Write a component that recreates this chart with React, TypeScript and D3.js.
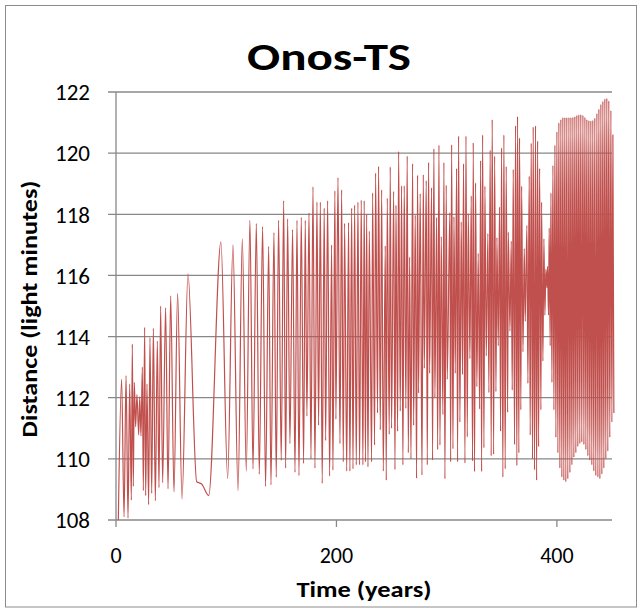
import React from "react";
import * as d3 from "d3";

// ---- Data: turning points of the distance curve ----
// [time (years), distance (light minutes)]
const earlyYears: [number, number][] = [
  [2.1, 108.0], [5.1, 112.6], [7.3, 108.1], [9.1, 112.72], [10.9, 108.06], [12.4, 112.45],
  [13.9, 108.65], [14.8, 113.75], [15.7, 109.1], [16.6, 112.5], [17.8, 111.05], [19.0, 112.1],
  [20.6, 110.78], [21.5, 112.03], [22.7, 110.75], [23.9, 113.0], [24.8, 108.96], [26.0, 114.3],
  [26.9, 108.8], [28.1, 112.45], [29.6, 108.5], [30.8, 113.96], [32.4, 108.87], [33.9, 114.27],
  [35.7, 108.63], [37.5, 113.85], [39.0, 109.06], [40.5, 115.0], [42.3, 109.22], [45.0, 114.94],
  [47.2, 109.02], [49.6, 115.33], [52.6, 108.92], [55.9, 115.41], [59.9, 108.69], [65.3, 116.05],
  [73.2, 109.25], [77.7, 109.18], [84.1, 108.8],
];

const wideSwings: [number, number][] = [
  [95.2, 117.1], [101.3, 109.36], [106.1, 117.0], [110.7, 108.96], [114.6, 117.2], [118.2, 109.6],
  [121.5, 117.8], [124.3, 109.67], [127.3, 117.7], [130.0, 109.5], [133.0, 117.6], [135.7, 109.1],
  [138.5, 116.95], [140.6, 109.15], [143.3, 117.4], [145.4, 109.4], [147.5, 117.8], [149.9, 109.95],
  [152.1, 118.45],
];

const middleYears: [number, number][] = [
  [153.9, 109.7], [155.7, 117.85], [157.8, 110.5], [160.2, 117.5], [162.4, 109.56], [164.2, 117.8],
  [166.0, 109.45], [168.1, 117.9], [170.2, 109.85], [171.7, 117.8], [173.2, 111.4], [175.1, 118.05],
  [176.9, 110.0], [178.7, 118.9], [180.5, 109.7], [182.3, 118.4], [183.8, 111.1], [185.4, 118.4],
  [187.1, 109.2], [188.9, 118.2], [190.2, 110.6], [192.0, 118.45], [193.8, 109.44], [195.6, 117.0],
  [196.8, 109.63], [198.6, 118.77], [199.5, 111.3], [201.4, 119.2], [203.2, 110.5], [204.7, 118.8],
  [206.2, 109.9], [207.4, 117.7], [209.3, 109.6], [211.0, 117.73], [212.2, 109.6], [213.8, 118.2],
  [215.0, 109.67], [216.5, 118.3], [218.0, 109.8], [219.5, 118.4], [221.0, 109.8], [222.5, 118.46],
  [224.0, 109.8], [225.2, 118.45], [226.3, 109.9],
];

const lateYears: [number, number][] = [
  [227.4, 118.0], [228.6, 109.74], [229.8, 117.45], [231.9, 109.9], [232.8, 118.7], [234.6, 110.45],
  [235.5, 119.35], [237.3, 111.5], [238.2, 119.57], [239.8, 110.95], [241.0, 118.8], [242.5, 109.6],
  [244.3, 116.97], [245.2, 109.3], [246.1, 118.53], [247.9, 110.8], [248.8, 119.55], [250.0, 111.0],
  [251.9, 118.75], [253.1, 109.65], [254.0, 118.3], [255.5, 110.9], [256.4, 120.06], [257.9, 111.56],
  [259.1, 118.93], [260.3, 109.8], [261.5, 118.93], [263.0, 111.65], [264.2, 119.9], [265.2, 110.2],
  [266.4, 116.6], [267.6, 110.0], [269.1, 119.66], [270.0, 111.1], [271.5, 117.97], [272.7, 109.36],
  [273.6, 119.28], [274.5, 112.15], [276.0, 118.68], [277.6, 109.47], [278.8, 119.3], [279.7, 112.96],
  [281.5, 119.1], [282.4, 109.8], [283.6, 119.7], [284.5, 112.8], [286.3, 118.87], [287.2, 109.96],
  [288.4, 120.15], [289.3, 112.0], [290.9, 117.9], [291.8, 110.3], [293.0, 120.26], [293.9, 110.45],
  [295.1, 117.27], [296.6, 111.45], [297.5, 119.7], [298.4, 109.35], [299.6, 118.95], [300.5, 112.6],
];

const beatYears: [number, number][] = [
  [302.9, 118.06], [303.6, 109.9], [304.5, 120.28], [305.7, 110.33], [306.6, 117.92], [307.8, 112.8],
  [309.0, 119.5], [309.9, 109.9], [310.8, 120.56], [312.0, 111.2], [313.2, 117.75], [314.4, 112.76],
  [315.3, 119.66], [316.6, 109.86], [317.5, 120.56], [318.7, 110.72], [319.6, 118.03], [321.1, 113.28],
  [322.3, 118.6], [323.5, 109.93], [324.1, 120.34], [325.3, 109.58], [326.2, 119.03], [327.4, 112.36],
  [328.6, 116.72], [329.9, 111.63], [330.8, 119.76], [331.7, 109.58], [332.6, 120.6], [333.8, 110.36],
  [334.7, 118.92], [335.9, 113.37], [337.4, 117.37], [338.3, 112.17], [339.5, 120.1], [340.4, 110.1],
  [341.3, 121.1], [342.6, 110.15], [343.5, 119.9], [344.7, 112.2], [345.6, 117.24], [346.8, 113.7],
  [348.0, 118.24], [348.9, 110.9], [349.8, 120.17], [351.0, 109.4], [351.9, 120.6], [353.1, 109.67],
  [354.0, 119.57], [355.3, 111.52], [355.9, 117.42], [357.4, 114.18], [358.6, 117.12], [359.5, 112.25],
  [360.4, 119.47], [361.6, 110.47], [362.5, 120.9], [363.7, 109.78], [364.3, 121.2], [365.5, 110.2],
  [366.1, 120.5], [367.3, 111.6], [368.0, 118.92], [369.2, 113.5], [370.4, 116.88], [371.3, 114.5],
  [372.8, 117.64], [373.7, 112.47], [374.9, 119.25], [375.8, 110.78], [376.7, 120.33], [377.9, 110.0],
  [378.5, 120.86],
];

const neckYears: [number, number][] = [
  [379.7, 109.64], [380.6, 120.9], [381.6, 109.3], [382.5, 120.4], [383.4, 110.4], [384.3, 119.5],
  [385.5, 111.6], [386.1, 118.4], [387.3, 113.2], [388.2, 117.2], [389.1, 114.7], [390.0, 116.2],
  [390.9, 115.6], [391.5, 116.3], [392.4, 114.7], [393.0, 117.55], [393.9, 113.7], [394.6, 118.7],
  [395.5, 112.5], [396.4, 119.6], [397.3, 111.6], [398.2, 120.26], [399.1, 110.7], [400.0, 120.7],
  [400.9, 110.2], [401.8, 121.0],
];

const finalYears: [number, number][] = [
  [402.7, 109.7], [403.6, 121.1], [404.5, 109.4], [405.4, 121.17], [406.3, 109.3], [407.2, 121.17],
  [408.1, 109.25], [409.0, 121.17], [409.9, 109.35], [410.9, 121.17], [411.8, 109.55], [412.7, 121.17],
  [413.6, 109.8], [414.5, 121.18], [415.4, 110.05], [416.3, 121.2], [417.2, 110.2], [418.1, 121.24],
  [419.0, 110.4], [419.9, 121.26], [420.8, 110.5], [421.7, 121.27], [422.6, 110.55], [423.6, 121.24],
  [424.5, 110.47], [425.4, 121.18], [426.3, 110.3], [427.2, 121.1], [428.1, 110.1], [429.0, 121.07],
  [429.9, 109.95], [430.8, 121.06], [431.7, 109.8], [432.6, 121.08], [433.5, 109.6], [434.4, 121.15],
  [435.3, 109.45], [436.3, 121.3], [437.2, 109.4], [438.1, 121.45], [439.0, 109.35], [439.9, 121.6],
  [440.8, 109.5], [441.7, 121.7], [442.6, 109.7], [443.5, 121.78], [444.4, 110.0], [445.3, 121.8],
  [446.2, 110.25], [447.1, 121.72], [448.0, 110.7], [449.0, 121.4], [449.9, 111.2], [450.8, 120.6],
  [451.7, 111.5],
];

const xTicks = [0, 200, 400];
const yTicks = [108, 110, 112, 114, 116, 118, 120, 122];
const title = "Onos-TS";
const xTitle = "Time (years)";
const yTitle = "Distance (light minutes)";

const W = 644;
const H = 609;
const FONT = "Carlito, Calibri, Lato, sans-serif";
const GRID = "#888888";
const LINE = "#C0504D";

export default function App() {
  const x = d3.scaleLinear().domain([0, 450]).range([116, 612]);
  const y = d3.scaleLinear().domain([108, 122]).range([520, 92]);

  const series = [
    ...earlyYears,
    ...wideSwings,
    ...middleYears,
    ...lateYears,
    ...beatYears,
    ...neckYears,
    ...finalYears,
  ];

  const path = d3
    .line<[number, number]>()
    .x((d) => x(d[0]))
    .y((d) => y(d[1]))
    .curve(d3.curveMonotoneX)(series) as string;

  const [x0, x1] = x.range();
  const [yb, yt] = y.range();

  return (
    <svg
      width={W}
      height={H}
      style={{ position: "absolute", left: 0, top: 0, background: "#fff" }}
      fontFamily={FONT}
    >
      <rect x={0} y={0} width={W} height={H} fill="#fff" />
      <rect x={5.5} y={5.5} width={631} height={601.5} fill="none" stroke="#8c8c8c" strokeWidth={1} />

      {/* horizontal gridlines with outside ticks */}
      {yTicks.map((t) => (
        <line key={"g" + t} x1={x0 - 8} x2={x1} y1={y(t)} y2={y(t)} stroke={GRID} strokeWidth={1.3} />
      ))}
      {/* y axis */}
      <line x1={x0} x2={x0} y1={yt} y2={yb} stroke={GRID} strokeWidth={1.3} />
      {/* x ticks */}
      {xTicks.map((t) => (
        <line key={"xt" + t} x1={x(t)} x2={x(t)} y1={yb} y2={yb + 7} stroke={GRID} strokeWidth={1.3} />
      ))}

      {/* series */}
      <path d={path} fill="none" stroke={LINE} strokeWidth={1.2} strokeLinejoin="round" />

      {/* y tick labels */}
      {yTicks.map((t) => (
        <text key={"yl" + t} x={90} y={y(t) + 8.3} textAnchor="end" fontSize={23} fill="#000">
          {t}
        </text>
      ))}
      {/* x tick labels */}
      {xTicks.map((t) => (
        <text key={"xl" + t} x={x(t)} y={563} textAnchor="middle" fontSize={22} fill="#000">
          {t}
        </text>
      ))}

      <text
        x={329}
        y={70}
        textAnchor="middle"
        fontSize={37.5}
        fontWeight="bold"
        fill="#000"
        textLength={164}
        lengthAdjust="spacingAndGlyphs"
      >
        {title}
      </text>
      <text
        x={364}
        y={597}
        textAnchor="middle"
        fontSize={23}
        fontWeight="bold"
        fill="#000"
        textLength={135}
        lengthAdjust="spacingAndGlyphs"
      >
        {xTitle}
      </text>
      <text
        transform={`translate(37, 309) rotate(-90)`}
        textAnchor="middle"
        fontSize={23}
        fontWeight="bold"
        fill="#000"
        textLength={257}
        lengthAdjust="spacingAndGlyphs"
      >
        {yTitle}
      </text>
    </svg>
  );
}
